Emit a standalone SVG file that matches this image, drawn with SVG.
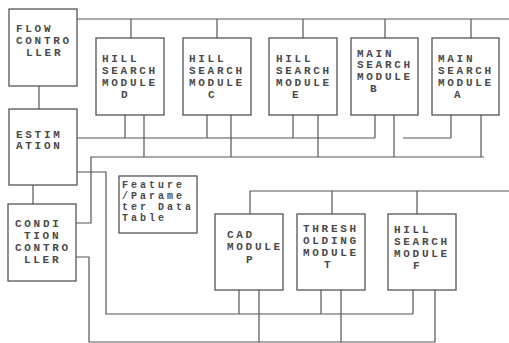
<svg xmlns="http://www.w3.org/2000/svg" width="509" height="343" viewBox="0 0 509 343">
<style>
.bx{fill:#fff;stroke:#555;stroke-width:1.3}
.ln{fill:none;stroke:#555;stroke-width:1.2}
.t{font-family:"Liberation Mono",monospace;font-size:11px;letter-spacing:2.7px;fill:#4a4a4a;font-weight:bold}
.f{font-family:"Liberation Mono",monospace;font-size:10px;letter-spacing:3px;fill:#4a4a4a;font-weight:bold}
</style>
<rect width="509" height="343" fill="#fff"/>
<g id="connectors" class="ln">
<path d="M39,86V109M33,185V204"/>
<path d="M77,19H509M131,19V38M217,19V38M303,19V38M385,19V38M471,19V38"/>
<path d="M77,138H375M125,115V138M207,115V138M293,115V138M375,115V138M403,138H451M451,115V138"/>
<path d="M76,223H91V157H484M144,115V157M231,115V157M318,115V157M394,115V157M481,115V157"/>
<path d="M77,172H106V314H413M239,290V314M321,290V314M413,290V314"/>
<path d="M76,257H89V342H435M259,290V342M341,290V342M435,290V342"/>
<path d="M250,214V191H509M332,191V214M417,191V214"/>
</g>
<g id="flow"><rect class="bx" x="9" y="9" width="68" height="77"/>
<text class="t"><tspan x="16" y="32">FLOW</tspan><tspan x="16" y="44">CONTRO</tspan><tspan x="26" y="56">LLER</tspan></text></g>
<g id="estimation"><rect class="bx" x="9" y="109" width="68" height="76"/>
<text class="t"><tspan x="16" y="138">ESTIM</tspan><tspan x="16" y="149">ATION</tspan></text></g>
<g id="condition"><rect class="bx" x="8" y="204" width="68" height="77"/>
<text class="t"><tspan x="15" y="227">CONDI</tspan><tspan x="24" y="239">TION</tspan><tspan x="15" y="251">CONTRO</tspan><tspan x="24" y="263">LLER</tspan></text></g>
<g id="hillD"><rect class="bx" x="96" y="38" width="68" height="77"/>
<text class="t"><tspan x="102" y="62">HILL</tspan><tspan x="102" y="74">SEARCH</tspan><tspan x="102" y="86">MODULE</tspan><tspan x="121" y="98">D</tspan></text></g>
<g id="hillC"><rect class="bx" x="183" y="38" width="68" height="77"/>
<text class="t"><tspan x="189" y="62">HILL</tspan><tspan x="189" y="74">SEARCH</tspan><tspan x="189" y="86">MODULE</tspan><tspan x="208" y="98">C</tspan></text></g>
<g id="hillE"><rect class="bx" x="269" y="38" width="68" height="77"/>
<text class="t"><tspan x="276" y="62">HILL</tspan><tspan x="276" y="74">SEARCH</tspan><tspan x="276" y="86">MODULE</tspan><tspan x="292" y="98">E</tspan></text></g>
<g id="mainB"><rect class="bx" x="351" y="38" width="67" height="77"/>
<text class="t"><tspan x="357" y="57">MAIN</tspan><tspan x="357" y="68">SEARCH</tspan><tspan x="357" y="80">MODULE</tspan><tspan x="370" y="92">B</tspan></text></g>
<g id="mainA"><rect class="bx" x="432" y="38" width="67" height="77"/>
<text class="t"><tspan x="438" y="62">MAIN</tspan><tspan x="438" y="74">SEARCH</tspan><tspan x="438" y="86">MODULE</tspan><tspan x="454" y="98">A</tspan></text></g>
<g id="table"><rect class="bx" x="119" y="176" width="78" height="57"/>
<text class="f"><tspan x="122" y="188">Feature</tspan><tspan x="122" y="199">/Parame</tspan><tspan x="122" y="210">ter Data</tspan><tspan x="122" y="221">Table</tspan></text></g>
<g id="cad"><rect class="bx" x="215" y="214" width="68" height="76"/>
<text class="t"><tspan x="227" y="238">CAD</tspan><tspan x="227" y="250">MODULE</tspan><tspan x="246" y="263">P</tspan></text></g>
<g id="thresh"><rect class="bx" x="297" y="214" width="68" height="76"/>
<text class="t"><tspan x="303" y="232">THRESH</tspan><tspan x="303" y="244">OLDING</tspan><tspan x="303" y="256">MODULE</tspan><tspan x="324" y="268">T</tspan></text></g>
<g id="hillF"><rect class="bx" x="388" y="214" width="68" height="76"/>
<text class="t"><tspan x="394" y="233">HILL</tspan><tspan x="394" y="245">SEARCH</tspan><tspan x="394" y="257">MODULE</tspan><tspan x="413" y="269">F</tspan></text></g>
</svg>
